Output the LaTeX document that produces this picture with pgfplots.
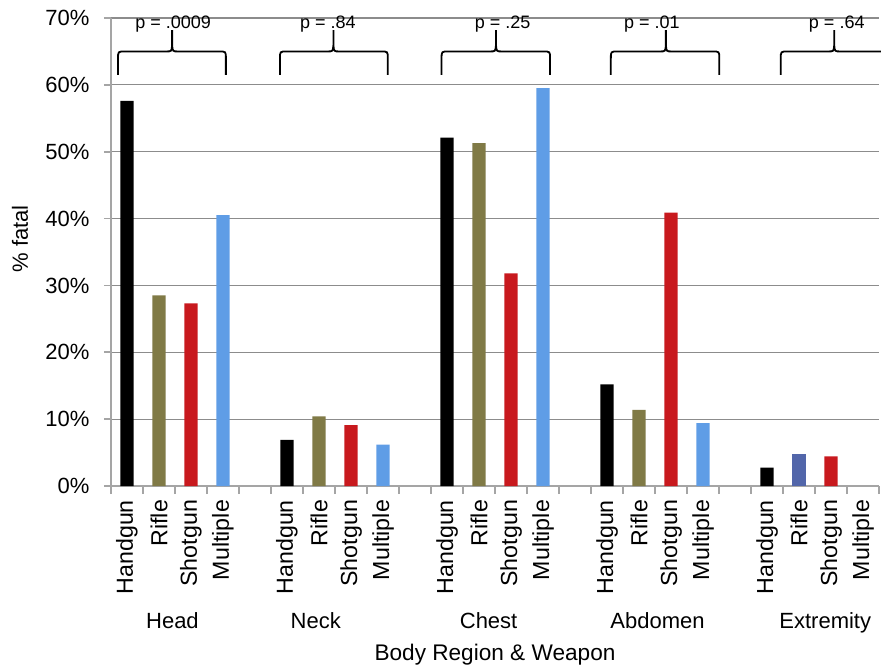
\documentclass[border=0pt]{standalone}
\usepackage{fontspec}
\setmainfont{Liberation Sans}
\usepackage{pgfplots}
\pgfplotsset{compat=1.18}
\definecolor{colive}{RGB}{128,122,70}
\definecolor{cred}{RGB}{200,25,30}
\definecolor{cblue}{RGB}{95,157,230}
\definecolor{cslate}{RGB}{82,102,170}
\definecolor{cgrid}{RGB}{140,140,140}
\definecolor{caxis}{RGB}{165,165,165}
\newcommand{\pbrace}[5]{%
 \draw[line width=0.9pt] (axis cs:#1,61.5) -- ([yshift=-3.5pt]axis cs:#1,65)
   .. controls (axis cs:#1,65) .. ([xshift=3.5pt]axis cs:#1,65)
   -- ([xshift=-3pt]axis cs:#2,65)
   .. controls ([xshift=-0.3pt]axis cs:#2,65) .. ([yshift=3pt]axis cs:#2,65)
   -- (axis cs:#2,68.2) -- ([yshift=3pt]axis cs:#2,65)
   .. controls ([xshift=0.3pt]axis cs:#2,65) .. ([xshift=3pt]axis cs:#2,65)
   -- ([xshift=-3.5pt]axis cs:#3,65)
   .. controls (axis cs:#3,65) .. ([yshift=-3.5pt]axis cs:#3,65)
   -- (axis cs:#3,61.5);
 \node[anchor=base, font=\fontsize{9}{11}\selectfont, inner sep=0pt] at (axis cs:#4,68.4) {#5};
}
\begin{document}
\begin{tikzpicture}
\useasboundingbox (-55.5pt,-89.5pt) rectangle (385pt,243pt);
\begin{axis}[
  at={(0,0)}, anchor=south west,
  scale only axis, width=384pt, height=234pt,
  xmin=-0.5, xmax=23.5, ymin=0, ymax=70,
  axis x line*=bottom, axis y line*=left,
  axis line style={draw=caxis, line width=0.8pt},
  ymajorgrids, grid style={draw=cgrid, line width=0.6pt},
  ytick={0,10,...,70},
  yticklabels={0\%,10\%,20\%,30\%,40\%,50\%,60\%,70\%},
  xtick={0,1,2,3,5,6,7,8,10,11,12,13,15,16,17,18,20,21,22,23},
  xticklabels={Handgun,Rifle,Shotgun,Multiple,Handgun,Rifle,Shotgun,Multiple,Handgun,Rifle,Shotgun,Multiple,Handgun,Rifle,Shotgun,Multiple,Handgun,Rifle,Shotgun,Multiple},
  minor xtick={-0.5,0.5,...,23.5},
  tick align=outside,
  major tick length=3.5pt, minor tick length=4pt,
  major x tick style={draw=none},
  tick style={draw=caxis, line width=0.8pt},
  xticklabel style={rotate=90, anchor=east, font=\fontsize{11.6}{13}\selectfont},
  yticklabel style={font=\fontsize{11}{13}\selectfont, xshift=-3.8pt},
  clip=false,
  ylabel={\% fatal},
  every axis y label/.style={at={(axis description cs:-0.1185,0.5278)}, rotate=90, anchor=center, font=\fontsize{11}{13}\selectfont},
  xlabel={Body Region \& Weapon},
  every axis x label/.style={at={(axis description cs:0.5,0)}, anchor=center, yshift=-84.5pt, font=\fontsize{11.3}{13}\selectfont},
]
\addplot[ybar, bar width=6.65pt, fill=black, draw=none] coordinates {(0,57.6) (5,6.9) (10,52.1) (15,15.2) (20,2.75)};
\addplot[ybar, bar width=6.65pt, fill=colive, draw=none] coordinates {(1,28.5) (6,10.4) (11,51.3) (16,11.4)};
\addplot[ybar, bar width=6.65pt, fill=cslate, draw=none] coordinates {(21,4.75)};
\addplot[ybar, bar width=6.65pt, fill=cred, draw=none] coordinates {(2,27.3) (7,9.1) (12,31.8) (17,40.9) (22,4.45)};
\addplot[ybar, bar width=6.65pt, fill=cblue, draw=none] coordinates {(3,40.5) (8,6.2) (13,59.5) (18,9.4)};

\pbrace{-0.28}{1.41}{3.09}{1.44}{p = .0009}
\pbrace{4.78}{6.45}{8.15}{6.28}{p = .84}
\pbrace{9.83}{11.53}{13.22}{11.74}{p = .25}
\pbrace{15.12}{16.84}{18.51}{16.4}{p = .01}
\pbrace{20.43}{22.10}{23.9}{22.18}{p = .64}

\node[anchor=base, font=\fontsize{11}{13}\selectfont] at ([yshift=-71pt]axis cs:1.42,0) {Head};
\node[anchor=base, font=\fontsize{11}{13}\selectfont] at ([yshift=-71pt]axis cs:5.9,0) {Neck};
\node[anchor=base, font=\fontsize{11}{13}\selectfont] at ([yshift=-71pt]axis cs:11.3,0) {Chest};
\node[anchor=base, font=\fontsize{11}{13}\selectfont] at ([yshift=-71pt]axis cs:16.58,0) {Abdomen};
\node[anchor=base, font=\fontsize{11}{13}\selectfont] at ([yshift=-71pt]axis cs:21.82,0) {Extremity};
\end{axis}
\end{tikzpicture}
\end{document}
